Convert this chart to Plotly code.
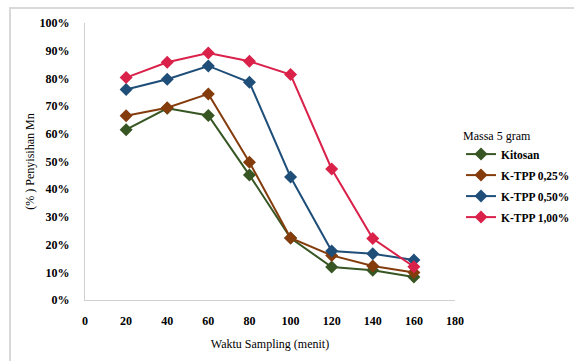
import plotly.graph_objects as go

time_min = [20, 40, 60, 80, 100, 120, 140, 160]
kitosan = [61.5, 69.2, 66.6, 45.1, 22.4, 11.9, 10.7, 8.3]
ktpp_025 = [66.5, 69.4, 74.4, 49.7, 22.4, 16.1, 12.3, 9.9]
ktpp_050 = [76.0, 79.7, 84.5, 78.6, 44.4, 17.7, 16.7, 14.4]
ktpp_100 = [80.3, 85.8, 89.2, 86.2, 81.4, 47.3, 22.2, 12.0]

series_names = ["Kitosan", "K-TPP 0,25%", "K-TPP 0,50%", "K-TPP 1,00%"]
series_vals = [kitosan, ktpp_025, ktpp_050, ktpp_100]
colors = ["#375623", "#843C0C", "#1F4E79", "#D9214A"]

x_ticks = [0, 20, 40, 60, 80, 100, 120, 140, 160, 180]
y_ticks = [0, 10, 20, 30, 40, 50, 60, 70, 80, 90, 100]

FONT = "'Liberation Serif', 'DejaVu Serif'"

fig = go.Figure()
for i, (name, vals, c) in enumerate(zip(series_names, series_vals, colors)):
    fig.add_trace(go.Scatter(
        x=time_min, y=vals, name=name, mode="lines+markers",
        legendgroup=f"g{i}",
        line=dict(color=c, width=2),
        marker=dict(symbol="diamond", size=10, color=c),
    ))

W, H = 574, 361
L, R, T, B = 85, 119, 23, 61
pw, ph = W - L - R, H - T - B

fig.update_layout(
    width=W, height=H,
    margin=dict(l=L, r=R, t=T, b=B, pad=0, autoexpand=False),
    paper_bgcolor="white", plot_bgcolor="white",
    font=dict(family=FONT, color="black"),
    showlegend=True,
    legend=dict(
        xref="container", yref="container",
        x=461 / W, y=1 - 124 / H, xanchor="left", yanchor="top",
        title=dict(text="Massa 5 gram", font=dict(family=FONT, size=12, color="black", weight="normal")),
        font=dict(family=FONT, size=11.5, color="black", weight="bold"),
        itemwidth=30, tracegroupgap=2, bgcolor="rgba(0,0,0,0)",
    ),
    xaxis=dict(
        range=[0, 180], tickvals=x_ticks, ticktext=[str(v) for v in x_ticks],
        showgrid=False, zeroline=False, showline=True, linecolor="#d0d0d0", linewidth=1,
        ticks="", ticklabelstandoff=10, automargin=False,
        tickfont=dict(family=FONT, size=12, color="black", weight="bold"),
        title=dict(text="Waktu Sampling (menit)", font=dict(family=FONT, size=12, color="black"), standoff=12),
    ),
    yaxis=dict(
        range=[0, 100], tickvals=y_ticks, ticktext=[f"{v}%" for v in y_ticks],
        showgrid=False, zeroline=False, showline=True, linecolor="#d0d0d0", linewidth=1,
        ticks="", ticklabelstandoff=12, automargin=False,
        tickfont=dict(family=FONT, size=12, color="black", weight="bold"),
        title=dict(text="(% ) Penyisihan Mn", font=dict(family=FONT, size=12, color="black"), standoff=2),
    ),
    shapes=[dict(
        type="rect", xref="paper", yref="paper",
        x0=(10 - L) / pw, x1=(600 - L) / pw,
        y0=(300 - 375) / ph, y1=(300 - 8) / ph,
        line=dict(color="#d9d9d9", width=2), fillcolor="rgba(0,0,0,0)", layer="below",
    )],
)

fig.write_html("out.html")
